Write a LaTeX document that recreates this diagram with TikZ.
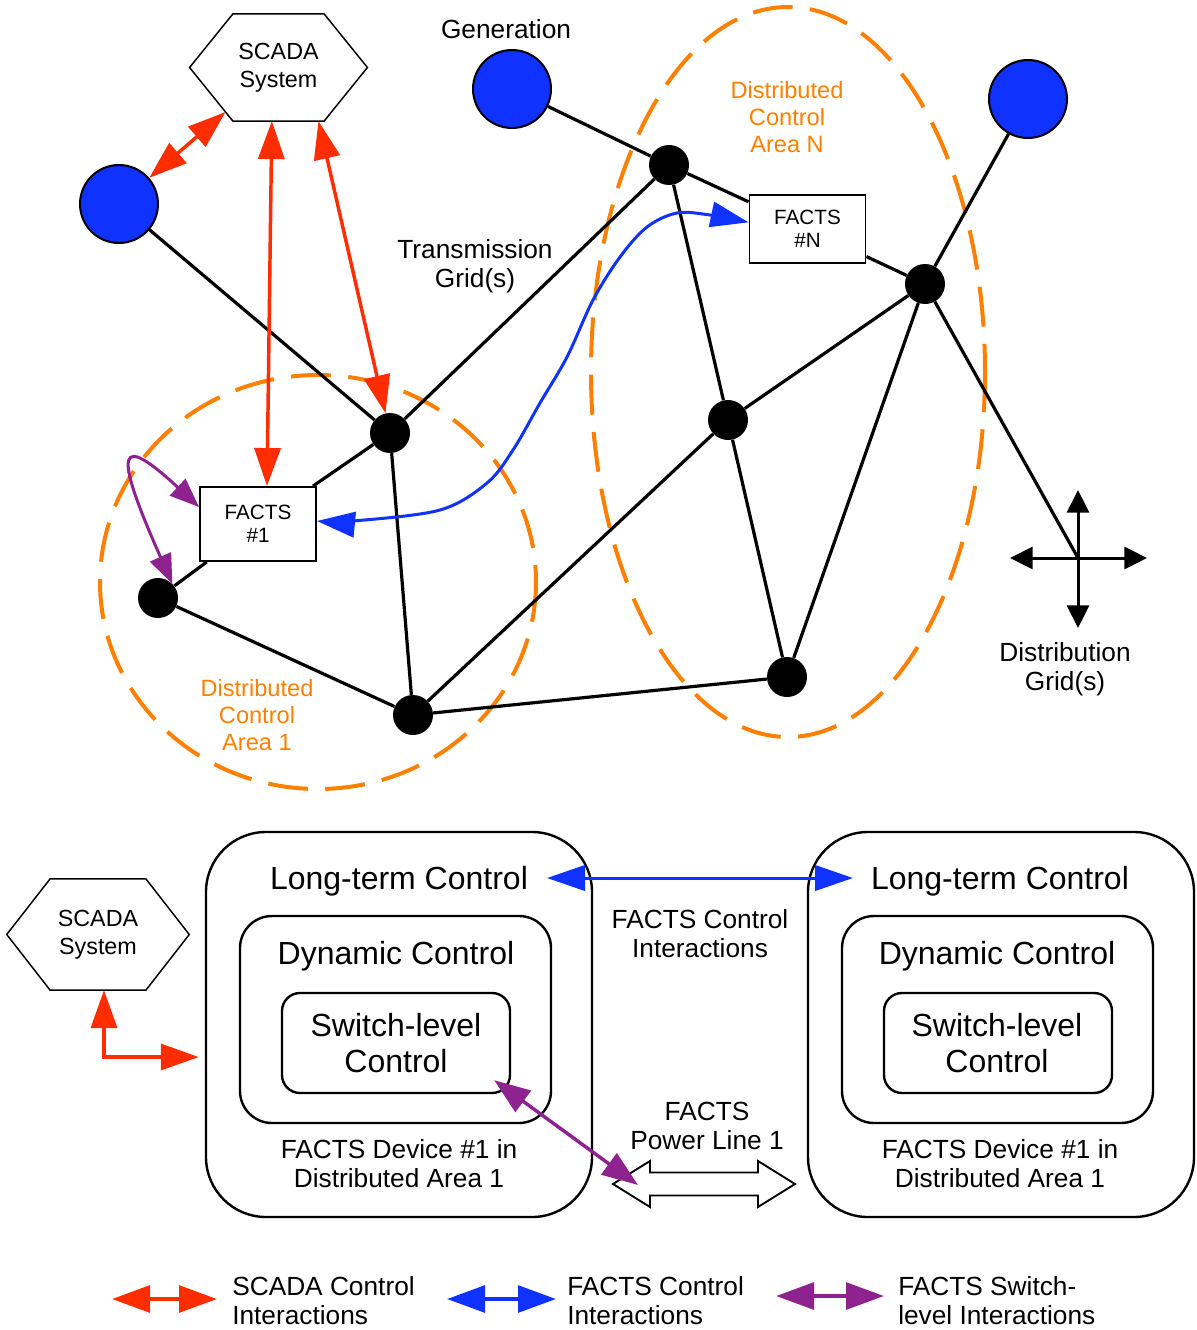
\documentclass[tikz,border=0pt]{standalone}
\usepackage{fontspec}
\setmainfont{Liberation Sans}
\usetikzlibrary{arrows.meta,calc}
\definecolor{cred}{RGB}{255,45,0}
\definecolor{cblue}{RGB}{16,50,255}
\definecolor{cpurple}{RGB}{142,34,142}
\definecolor{corange}{RGB}{255,128,0}
\newcommand{\hexframe}[1]{\draw[line width=1.1pt] (#1.west) -- ([xshift=32.5pt]#1.north west) -- ([xshift=-32.5pt]#1.north east) -- (#1.east) -- ([xshift=-32.5pt]#1.south east) -- ([xshift=32.5pt]#1.south west) -- cycle;}
\tikzset{
 every node/.style={inner sep=0pt},
 gen/.style={circle, draw=black, line width=1.5pt, fill=cblue, minimum size=58.5pt},
 bus/.style={circle, fill=black, minimum size=30pt},
 facts/.style={draw, line width=1.4pt, fill=white, minimum width=87pt, align=center, font=\fontsize{15.5}{17}\selectfont},
 hexnode/.style={minimum width=133pt, minimum height=80pt, align=center, font=\fontsize{17.5}{21}\selectfont},
 lbl/.style={align=center, font=\fontsize{19.7}{21.8}\selectfont},
 leglbl/.style={align=left, anchor=west, font=\fontsize{19.7}{21.8}\selectfont},
 arealbl/.style={align=center, text=corange, font=\fontsize{17.7}{20.3}\selectfont},
 bigtxt/.style={align=center, font=\fontsize{24}{27}\selectfont},
 outerbox/.style={draw, line width=1.8pt, rounded corners=45pt, minimum width=289.5pt, minimum height=288.75pt},
 dynbox/.style={draw, line width=1.8pt, rounded corners=24pt, minimum width=233.25pt, minimum height=155.25pt},
 swbox/.style={draw, line width=1.8pt, rounded corners=13.5pt, minimum width=171pt, minimum height=75pt},
 gridline/.style={line width=2.4pt},
 area/.style={draw=corange, line width=3pt, dash pattern=on 30pt off 13pt},
 redarr/.style={draw=cred, color=cred, line width=2.6pt, >={Triangle[length=28.5pt,width=19.5pt]}, <->},
 bluearr/.style={draw=cblue, color=cblue, line width=2.25pt, >={Triangle[length=28.5pt,width=19pt]}, <->},
 purparr/.style={draw=cpurple, color=cpurple, line width=2.25pt, >={Triangle[length=22pt,width=17pt]}, <->},
 purparrbig/.style={draw=cpurple, color=cpurple, line width=2.6pt, >={Triangle[length=27pt,width=19.5pt]}, <->},
 distarr/.style={line width=2.25pt, >={Triangle[length=17pt,width=16.5pt]}, <->},
 legarr/.style={line width=3pt, >={Triangle[length=28.5pt,width=20pt]}, <->},
 powerline/.style={draw, line width=1.4pt, fill=white},
}
\begin{document}
\begin{tikzpicture}[x=0.75pt, y=-0.75pt]
\useasboundingbox (0,0) rectangle (1196,1330);
% areas
\draw[area] (318,582) ellipse [x radius=218, y radius=207];
\draw[area] (788,372) ellipse [x radius=197, y radius=365];
% generation
\node[gen] (g1) at (119,204) {};
\node[gen] (g2) at (512,89) {};
\node[gen] (g3) at (1028,99) {};
% buses
\node[bus] (n1) at (390,433) {};
\node[bus] (n2) at (158,598) {};
\node[bus] (n3) at (413,715) {};
\node[bus] (n4) at (669,165) {};
\node[bus] (n5) at (728,420) {};
\node[bus] (n6) at (925,284) {};
\node[bus] (n7) at (787,677) {};
% facts
\node[facts, minimum height=55.5pt] (f1) at (258,524) {FACTS\\\#1};
\node[facts, minimum height=51pt] (fN) at (807.5,229) {FACTS\\\#N};
% scada
\node[hexnode] (scada) at (278.5,67.5) {SCADA\\System};
\hexframe{scada}
% labels
\node[lbl] (lgen) at (506,29) {Generation};
\node[lbl] (ltrans) at (475,266) {Transmission\\Grid(s)};
\node[arealbl] (lareaN) at (787,117) {Distributed\\Control\\Area N};
\node[arealbl] (larea1) at (257,715) {Distributed\\Control\\Area 1};
\node[lbl] (ldist) at (1065,669) {Distribution\\Grid(s)};
% distribution cross
\coordinate (dc) at (1078,558);
\coordinate (dup) at (1078,490);
\coordinate (ddown) at (1078,628);
\coordinate (dleft) at (1010,558);
\coordinate (dright) at (1147,558);
\draw[distarr] (dup) -- (ddown);
\draw[distarr] (dleft) -- (dright);
% grid lines
\draw[gridline] (g1) -- (n1);
\draw[gridline] (n1) -- (f1);
\draw[gridline] (f1) -- (n2);
\draw[gridline] (n1) -- (n4);
\draw[gridline] (n1) -- (n3);
\draw[gridline] (n2) -- (n3);
\draw[gridline] (n3) -- (n5);
\draw[gridline] (n3) -- (n7);
\draw[gridline] (n4) -- (n5);
\draw[gridline] (g2) -- (n4);
\draw[gridline] (n4) -- (fN);
\draw[gridline] (fN) -- (n6);
\draw[gridline] (g3) -- (n6);
\draw[gridline] (n6) -- (n5);
\draw[gridline] (n6) -- (n7);
\draw[gridline] (n5) -- (n7);
\draw[gridline] (n6) -- (dc);
% scada interactions
\draw[redarr] ($(scada.west)!0.83!([xshift=32.5pt]scada.south west)$) -- (g1);
\draw[redarr] ([xshift=-5pt]scada.south) -- ([xshift=6.75pt]f1.north);
\draw[redarr] ([xshift=30pt]scada.south) -- (n1);
% facts interaction
\draw[bluearr] plot[smooth, tension=0.55] coordinates {([yshift=2.25pt]f1.east) (353,521) (440,510) (487,483) (513,450) (540,403) (567,357) (593,300) (620,257) (647,227) (677,213) (710,215) ([yshift=5pt]fN.west)};
% switch-level
\draw[purparr] ([yshift=12.75pt]f1.west) .. controls (118,432) and (112,448) .. (n2.north east);
% ---------- bottom part ----------
\node[hexnode, minimum width=136.5pt, minimum height=83pt] (scada2) at (98,934.5) {SCADA\\System};
\hexframe{scada2}
\node[outerbox] (big1) at (399,1024.5) {};
\node[dynbox] (dyn1) at (395.5,1019.5) {};
\node[swbox] (sw1) at (396,1043) {};
\node[outerbox] (big2) at (1001,1024.5) {};
\node[dynbox] (dyn2) at (997.5,1019.5) {};
\node[swbox] (sw2) at (998,1043) {};
\node[bigtxt] (lt1) at (399,881) {Long-term Control};
\node[bigtxt] (lt2) at (1000,881) {Long-term Control};
\node[bigtxt] (dc1) at (396,956) {Dynamic Control};
\node[bigtxt] (dc2) at (997,956) {Dynamic Control};
\node[bigtxt] (sc1) at (396,1043) {Switch-level\\Control};
\node[bigtxt] (sc2) at (997,1043) {Switch-level\\Control};
\node[lbl] (fd1) at (399,1164) {FACTS Device \#1 in\\Distributed Area 1};
\node[lbl] (fd2) at (1000,1164) {FACTS Device \#1 in\\Distributed Area 1};
\node[lbl] (lfci) at (700,934) {FACTS Control\\Interactions};
\node[lbl] (lpl) at (707,1126) {FACTS\\Power Line 1};
% power line (hollow double arrow)
\coordinate (pl) at (704,1184);
\draw[powerline] ($(pl)+(-91,0)$) -- ++(37,-23) -- ++(0,11.5) -- ++(108,0) -- ++(0,-11.5) -- ++(37,23) -- ++(-37,23) -- ++(0,-11.5) -- ++(-108,0) -- ++(0,11.5) -- cycle;
\coordinate (ltA) at (547,878);
\coordinate (ltB) at (853,878);
\draw[bluearr] (ltA) -- (ltB);
\coordinate (plend) at (638,1185);
\draw[purparrbig] ([shift={(-17,-14)}]sw1.south east) -- (plend);
\draw[redarr] ([xshift=4.5pt]scada2.south) |- ([xshift=-4.5pt, yshift=-24.4pt]big1.west);
% ---------- legend ----------
\coordinate (lr1) at (112,1299);
\coordinate (lr2) at (217,1299);
\coordinate (lb1) at (447,1299);
\coordinate (lb2) at (556,1299);
\coordinate (lp1) at (776,1296);
\coordinate (lp2) at (884,1296);
\draw[legarr, draw=cred, color=cred] (lr1) -- (lr2);
\draw[legarr, draw=cblue, color=cblue] (lb1) -- (lb2);
\draw[legarr, draw=cpurple, color=cpurple] (lp1) -- (lp2);
\node[leglbl] (tr) at (232,1301) {SCADA Control\\Interactions};
\node[leglbl] (tb) at (567,1301) {FACTS Control\\Interactions};
\node[leglbl] (tp) at (898,1301) {FACTS Switch-\\level Interactions};
\end{tikzpicture}
\end{document}
